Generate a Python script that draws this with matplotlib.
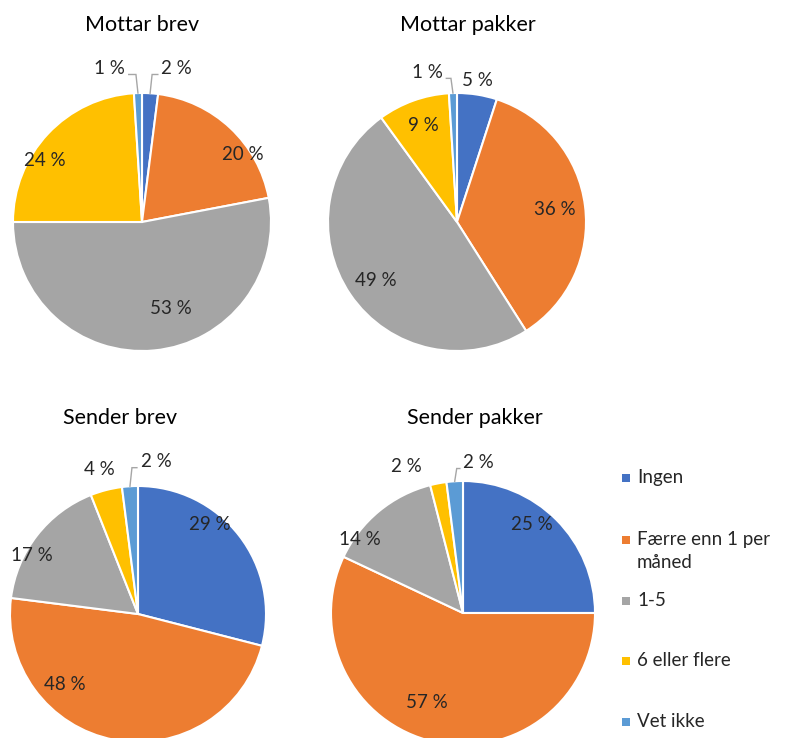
import matplotlib.pyplot as plt
import numpy as np

# Data
categories = ['Ingen', 'Færre enn 1 per måned', '1-5', '6 eller flere', 'Vet ikke']
legend_labels = ['Ingen', 'Færre enn 1 per\nmåned', '1-5', '6 eller flere', 'Vet ikke']
colors = ['#4472C4', '#ED7D31', '#A5A5A5', '#FFC000', '#5B9BD5']

titles = ['Mottar brev', 'Mottar pakker', 'Sender brev', 'Sender pakker']
mottar_brev = [2, 20, 53, 24, 1]
mottar_pakker = [5, 36, 49, 9, 1]
sender_brev = [29, 48, 17, 4, 2]
sender_pakker = [25, 57, 14, 2, 2]
series = [mottar_brev, mottar_pakker, sender_brev, sender_pakker]

# Layout (pixels, y measured from top)
W, H = 803, 738
centers = [(142, 222), (457, 222), (138, 614), (463, 613)]
radii = [129, 129, 128, 132]
title_pos = [(142, 25), (468, 25), (120, 418), (475, 418)]
# label offsets from centre in radius units (x right, y up)
label_off = [
    [(0.27, 1.19), (0.78, 0.52), (0.22, -0.67), (-0.75, 0.48), (-0.25, 1.19)],
    [(0.16, 1.10), (0.76, 0.10), (-0.63, -0.45), (-0.26, 0.75), (-0.23, 1.16)],
    [(0.56, 0.70), (-0.57, -0.55), (-0.83, 0.46), (-0.30, 1.13), (0.14, 1.19)],
    [(0.52, 0.67), (-0.27, -0.68), (-0.78, 0.56), (-0.43, 1.11), (0.12, 1.14)],
]
leaders = [[0, 4], [4], [4], [4]]

plt.rcParams['font.family'] = ['Lato', 'DejaVu Sans']

fig = plt.figure(figsize=(W / 100, H / 100), dpi=100)
ax = fig.add_axes([0, 0, 1, 1])
ax.set_xlim(0, W)
ax.set_ylim(0, H)
ax.set_aspect('equal')
ax.axis('off')

for k, vals in enumerate(series):
    cx, cy = centers[k][0], H - centers[k][1]
    r = radii[k]
    wedges, _ = ax.pie(vals, colors=colors, startangle=90, counterclock=False,
                       center=(cx, cy), radius=r, frame=True,
                       wedgeprops=dict(edgecolor='white', linewidth=1.5))
    ang0 = 0.0
    total = float(sum(vals))
    for i, v in enumerate(vals):
        mid = np.deg2rad((ang0 + v / 2) / total * 360)
        ang0 += v
        lx = cx + label_off[k][i][0] * r
        ly = cy + label_off[k][i][1] * r
        txt = '%d %%' % v
        ax.text(lx, ly, txt, ha='center', va='center', fontsize=13.5, color='#262626')
        if i in leaders[k]:
            ex = cx + r * np.sin(mid)
            ey = cy + r * np.cos(mid)
            side = 1 if lx > ex else -1
            ly2 = ly - 6
            ax.plot([ex, ex + side * 2, lx - side * 19], [ey, ly2, ly2],
                    color='#A6A6A6', lw=1, solid_joinstyle='miter')
    ax.text(title_pos[k][0], H - title_pos[k][1], titles[k], ha='center', va='center',
            fontsize=15.5, color='black')

ax.set_xlim(0, W)
ax.set_ylim(0, H)
ax.axis('off')

# legend
leg_y = [478, 540, 601, 661, 722]
for i, lab in enumerate(legend_labels):
    y = H - leg_y[i]
    ax.scatter([626], [y], marker='s', s=40, color=colors[i], linewidths=0)
    ax.text(637, y + 9, lab, ha='left', va='top', fontsize=13.5, color='#262626',
            linespacing=1.45)

fig.savefig('out.png', dpi=100)
